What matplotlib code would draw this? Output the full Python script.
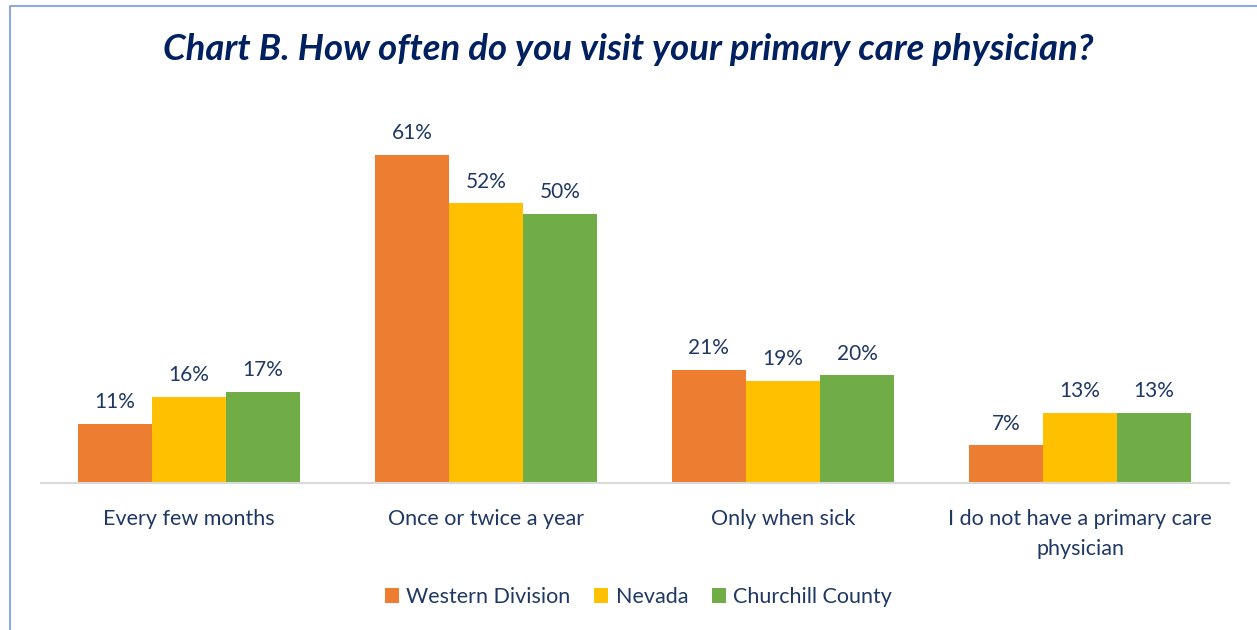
import numpy as np
import matplotlib
matplotlib.use("Agg")
import matplotlib.pyplot as plt
from matplotlib.lines import Line2D

plt.rcParams['font.family'] = ['Lato', 'DejaVu Sans']

categories = ["Every few months", "Once or twice a year", "Only when sick",
              "I do not have a primary care\nphysician"]
series_names = ["Western Division", "Nevada", "Churchill County"]
western = [11, 61, 21, 7]
nevada = [16, 52, 19, 13]
churchill = [17, 50, 20, 13]

colors = ["#ED7D31", "#FFC000", "#70AD47"]
text_color = "#1F3864"

fig = plt.figure(figsize=(12.57, 6.3), dpi=100)
ax = fig.add_axes([40.5 / 1257, 147 / 630, 1188 / 1257, 376.4 / 630])

x = np.arange(len(categories))
w = 0.2495
for i, (vals, name, c) in enumerate(zip([western, nevada, churchill], series_names, colors)):
    bars = ax.bar(x + (i - 1) * w, vals, w, color=c, label=name)
    for b, v in zip(bars, vals):
        ax.text(b.get_x() + b.get_width() / 2, v + 2.2, f"{v}%", ha="center", va="bottom",
                fontsize=15, color=text_color)

ax.set_xlim(-0.5, 3.5)
ax.set_ylim(0, 70)
ax.set_yticks([])
ax.set_xticks(x)
ax.set_xticklabels(categories, fontsize=15.5, color=text_color, linespacing=1.6)
ax.tick_params(axis="x", length=0, pad=19)
for s in ["top", "right", "left"]:
    ax.spines[s].set_visible(False)
ax.spines["bottom"].set_color("#D9D9D9")
ax.spines["bottom"].set_linewidth(1.5)

fig.text(0.5, 1 - 50 / 630, "Chart B. How often do you visit your primary care physician?",
         ha="center", va="center", fontsize=26.3, fontweight="bold", fontstyle="italic",
         color="#002060")

fig.legend(loc="center", bbox_to_anchor=(0.508, 1 - 597 / 630), ncol=3, frameon=False,
           fontsize=15.5, labelcolor=text_color, handlelength=0.65, handleheight=0.65,
           handletextpad=0.35, columnspacing=1.1)

# chart border (top and left visible)
fig.add_artist(Line2D([10 / 1257, 10 / 1257, 1], [0, 1 - 6 / 630, 1 - 6 / 630],
                      transform=fig.transFigure, color="#8EA9DB", linewidth=1.5))

fig.savefig("out.png", dpi=100)
